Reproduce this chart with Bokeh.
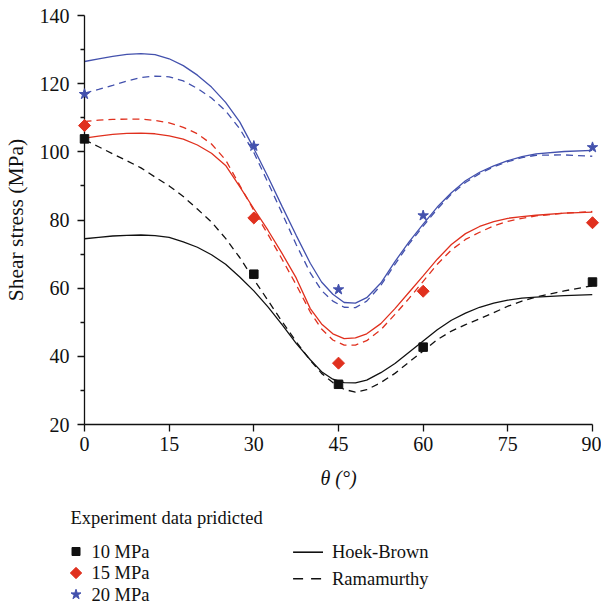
import math
from bokeh.plotting import figure
from bokeh.layouts import column
from bokeh.models import Range1d, FixedTicker, ColumnDataSource
from bokeh.core.properties import value
from bokeh.embed import file_html
from bokeh.resources import INLINE

# ---- data ----
angles = [0, 30, 45, 60, 90]
exp_10 = [103.8, 64.1, 31.8, 42.7, 61.8]
exp_15 = [107.7, 80.6, 38.0, 59.1, 79.2]
exp_20 = [116.9, 101.7, 59.6, 81.3, 101.3]

theta_curve = [0, 2.5, 5, 7.5, 10, 12.5, 15, 17.5, 20, 22.5, 25, 27.5, 30, 32.5, 35, 37.5, 40,
               42, 44, 46, 48, 50, 52.5, 55, 57.5, 60, 62.5, 65, 67.5, 70, 72.5, 75, 77.5, 80, 85, 90]
hb_10 = [74.5, 74.9, 75.3, 75.5, 75.6, 75.4, 74.9, 73.6, 72.0, 69.8, 67.0, 63.3, 59.2, 54.5, 49.3, 43.8, 39.0,
         35.5, 33.3, 32.3, 32.2, 33.0, 35.2, 37.9, 41.2, 44.5, 47.8, 50.6, 52.7, 54.4, 55.6, 56.5, 57.1, 57.4, 57.8, 58.1]
ram_10 = [103.5, 101.5, 99.4, 97.4, 95.3, 92.6, 90.0, 86.9, 83.2, 79.4, 74.6, 69.0, 62.6, 56.4, 50.2, 44.3, 38.8,
          35.0, 32.3, 30.3, 29.5, 30.2, 32.3, 35.0, 38.3, 41.6, 44.9, 47.4, 49.3, 51.0, 52.8, 54.7, 56.2, 57.4, 59.2, 60.7]
hb_15 = [104.0, 104.6, 105.1, 105.4, 105.5, 105.3, 104.7, 103.7, 102.0, 99.6, 96.0, 89.8, 83.3, 77.0, 70.2, 63.0, 54.0,
         49.5, 46.6, 45.2, 45.4, 46.6, 49.6, 54.0, 58.8, 63.6, 68.5, 72.8, 76.0, 78.1, 79.5, 80.5, 81.0, 81.4, 82.0, 82.3]
ram_15 = [108.9, 109.3, 109.5, 109.6, 109.6, 109.2, 108.5, 107.2, 105.3, 102.3, 97.6, 90.2, 82.8, 75.8, 68.5, 61.0, 53.0,
          48.0, 44.8, 43.3, 43.3, 44.6, 47.8, 52.3, 57.0, 62.0, 67.0, 71.2, 74.3, 76.4, 78.3, 79.6, 80.5, 81.2, 82.0, 82.5]
hb_20 = [126.5, 127.3, 128.0, 128.6, 128.8, 128.5, 127.3, 125.3, 122.5, 119.0, 114.5, 108.8, 101.0, 92.7, 84.0, 75.5, 67.3,
         61.8, 58.2, 55.8, 55.6, 57.2, 61.5, 67.8, 73.6, 78.8, 83.8, 88.0, 91.5, 94.0, 95.9, 97.4, 98.6, 99.4, 100.1, 100.4]
ram_20 = [117.2, 118.3, 119.5, 120.8, 121.8, 122.2, 122.0, 120.8, 118.6, 115.8, 112.0, 106.8, 99.8, 91.0, 82.0, 72.8, 64.5,
          59.3, 56.2, 54.4, 54.3, 56.2, 60.8, 67.0, 73.0, 78.2, 83.2, 87.6, 91.0, 93.6, 95.6, 97.1, 98.3, 99.0, 99.1, 98.7]

x_ticks = [0, 15, 30, 45, 60, 75, 90]
y_ticks = [20, 40, 60, 80, 100, 120, 140]
y_minor = [30, 50, 70, 90, 110, 130]

series_labels = ["10 MPa", "15 MPa", "20 MPa"]
model_labels = ["Hoek-Brown", "Ramamurthy"]
legend_title = "Experiment data pridicted"

BLACK = "#111111"
RED = "#e0301e"
BLUE = "#4351ad"
FONT = "Liberation Serif"
W = 601

# ---------------- main plot ----------------
p = figure(width=W, height=500, output_backend="svg", toolbar_location=None,
           x_range=Range1d(0, 90), y_range=Range1d(20, 140),
           min_border_left=83, min_border_right=9, min_border_top=15,
           min_border_bottom=76)
p.grid.visible = False
p.outline_line_color = None

xa = p.xaxis[0]
ya = p.yaxis[0]
xa.ticker = FixedTicker(ticks=x_ticks, minor_ticks=[])
ya.ticker = FixedTicker(ticks=y_ticks, minor_ticks=y_minor)
for ax in (xa, ya):
    ax.axis_line_width = 1.3
    ax.axis_line_color = BLACK
    ax.major_tick_line_width = 1.3
    ax.major_tick_line_color = BLACK
    ax.minor_tick_line_width = 1.3
    ax.minor_tick_line_color = BLACK
    ax.major_tick_out = 7
    ax.major_tick_in = 0
    ax.minor_tick_out = 4
    ax.minor_tick_in = 0
    ax.major_label_text_font = FONT
    ax.major_label_text_font_size = "20px"
    ax.major_label_text_color = BLACK
    ax.axis_label_text_font = FONT
    ax.axis_label_text_color = BLACK
ya.major_label_standoff = 8
xa.major_label_standoff = 5
xa.axis_label = "θ (°)"
xa.axis_label_text_font_size = "20px"
xa.axis_label_text_font_style = "italic"
xa.axis_label_standoff = 13
ya.axis_label = "Shear stress (MPa)"
ya.axis_label_text_font_size = "21.5px"
ya.axis_label_text_font_style = "normal"
ya.axis_label_standoff = 9

lw = 1.3
dash = "7 5"
p.line(theta_curve, hb_10, line_color=BLACK, line_width=lw)
p.line(theta_curve, ram_10, line_color=BLACK, line_width=lw, line_dash=dash)
p.line(theta_curve, hb_15, line_color=RED, line_width=lw)
p.line(theta_curve, ram_15, line_color=RED, line_width=lw, line_dash=dash)
p.line(theta_curve, hb_20, line_color=BLUE, line_width=lw)
p.line(theta_curve, ram_20, line_color=BLUE, line_width=lw, line_dash=dash)

p.scatter(angles, exp_10, marker="square", size=8.5, color=BLACK, level="overlay")
p.scatter(angles, exp_15, marker="square", angle=math.pi / 4, size=8.5, color=RED, level="overlay")
p.scatter(angles, exp_20, marker="star", size=11, color=BLUE, level="overlay")

# ---------------- legend panel (pixel-unit ranges) ----------------
q = figure(width=W, height=103, output_backend="svg", toolbar_location=None,
           x_range=Range1d(83, 592), y_range=Range1d(603, 500),
           x_axis_location=None, y_axis_location=None,
           min_border_left=83, min_border_right=9, min_border_top=0, min_border_bottom=0)
q.grid.visible = False
q.outline_line_color = None

txt = dict(text_font=value(FONT), text_font_size="18.5px", text_color=BLACK,
           text_baseline="middle", text_align="left", level="overlay")

# left block: experiment markers (one renderer so all keys share one size bound)
key_x, label_x = 74.5, 90
rows_y = [551, 572.5, 594]
q.text(x=[69], y=[517], text=[legend_title], **txt)
keys = ColumnDataSource(dict(
    x=[key_x] * 3, y=rows_y,
    marker=["square", "square", "star"],
    angle=[0, math.pi / 4, 0],
    size=[8, 8, 10.5],
    color=[BLACK, RED, BLUE],
))
q.scatter(x="x", y="y", marker="marker", angle="angle", size="size",
          fill_color="color", line_color="color", source=keys, level="overlay")
q.text(x=[label_x] * 3, y=rows_y, text=series_labels, **txt)

# right block: model line styles
lx0, lx1, ltx = 292, 322, 331
mrows_y = [551.7, 578.3]
q.line([lx0, lx1], [mrows_y[0]] * 2, line_color=BLACK, line_width=1.6, level="overlay")
q.line([lx0, lx1], [mrows_y[1]] * 2, line_color=BLACK, line_width=1.6, line_dash="10 8", level="overlay")
q.text(x=[ltx] * 2, y=mrows_y, text=model_labels, **txt)

layout = column(p, q, spacing=0)
open("out.html", "w").write(file_html(layout, INLINE))
